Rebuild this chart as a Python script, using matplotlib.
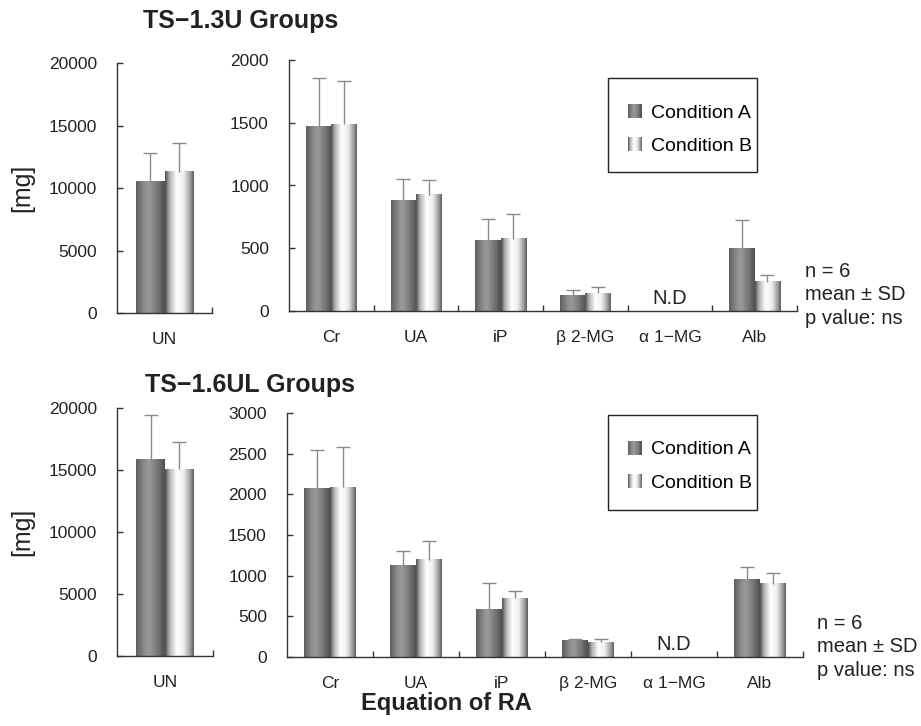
"""Urinary excretion bar panels for two dialyzer groups, Condition A vs B."""

import matplotlib

matplotlib.use("Agg")
import matplotlib.pyplot as plt
import numpy as np
from matplotlib.colors import LinearSegmentedColormap
from matplotlib.image import BboxImage
from matplotlib.legend_handler import HandlerBase
from matplotlib.patches import Patch, Rectangle
from matplotlib.transforms import Bbox, TransformedBbox

plt.rcParams["font.family"] = ["Liberation Sans", "DejaVu Sans"]

# ---- data -------------------------------------------------------------
UN_LABELS = ["UN"]
CATEGORIES = ["Cr", "UA", "iP", "β 2-MG", "α 1−MG", "Alb"]
ND_CATEGORY = "α 1−MG"

TOP_TITLE = "TS−1.3U Groups"
TOP_UN_A = [10500]
TOP_UN_A_SD = [2300]
TOP_UN_B = [11300]
TOP_UN_B_SD = [2300]
TOP_A = [1470, 880, 558, 127, np.nan, 500]
TOP_A_SD = [385, 170, 178, 43, np.nan, 225]
TOP_B = [1490, 925, 574, 143, np.nan, 233]
TOP_B_SD = [340, 115, 196, 48, np.nan, 52]
TOP_YTICKS = [0, 500, 1000, 1500, 2000]

BOT_TITLE = "TS−1.6UL Groups"
BOT_UN_A = [15860]
BOT_UN_A_SD = [3600]
BOT_UN_B = [15050]
BOT_UN_B_SD = [2230]
BOT_A = [2066, 1131, 578, 197, np.nan, 959]
BOT_A_SD = [480, 168, 332, 21, np.nan, 150]
BOT_B = [2090, 1193, 725, 184, np.nan, 898]
BOT_B_SD = [495, 229, 83, 34, np.nan, 131]
BOT_YTICKS = [0, 500, 1000, 1500, 2000, 2500, 3000]

UN_YTICKS = [0, 5000, 10000, 15000, 20000]
SERIES_LABELS = ["Condition A", "Condition B"]
STATS_TEXT = "n = 6\nmean ± SD\np value: ns"

# ---- style ------------------------------------------------------------
W, H = 921, 726
BAR_WIDTH = 0.3
ERR_COLOR = "#8a8a8a"
SPINE_COLOR = "#333333"
TEXT_COLOR = "#222222"
CMAP_A = LinearSegmentedColormap.from_list(
    "cond_a",
    [(0.0, "#5e5e5e"), (0.3, "#8e8e8e"), (0.45, "#9a9a9a"), (0.75, "#767676"), (1.0, "#4e4e4e")],
)
CMAP_B = LinearSegmentedColormap.from_list(
    "cond_b",
    [(0.0, "#4a4a4a"), (0.15, "#b0b0b0"), (0.4, "#ffffff"), (0.65, "#eeeeee"), (0.88, "#9a9a9a"), (1.0, "#5a5a5a")],
)
GRADIENT = np.linspace(0.0, 1.0, 256).reshape(1, -1)


class GradientHandler(HandlerBase):
    """Legend handle drawn as a small horizontal gradient square."""

    def __init__(self, cmap):
        super().__init__()
        self.cmap = cmap

    def create_artists(self, legend, orig_handle, xdescent, ydescent, width, height, fontsize, trans):
        bbox = TransformedBbox(Bbox.from_bounds(-xdescent, -ydescent, width, height), trans)
        image = BboxImage(bbox, cmap=self.cmap, interpolation="bicubic")
        image.set_data(GRADIENT)
        return [image]


def px_axes(fig, left, right, top, bottom):
    return fig.add_axes((left / W, 1 - bottom / H, (right - left) / W, (bottom - top) / H))


def style_axis(ax, n_cats, labels, ylim, yticks):
    for side in ("top", "right"):
        ax.spines[side].set_visible(False)
    for side in ("left", "bottom"):
        ax.spines[side].set_color(SPINE_COLOR)
        ax.spines[side].set_linewidth(1.0)
    ax.set_xlim(-0.5, n_cats - 0.5)
    ax.set_ylim(*ylim)
    ax.set_yticks(yticks)
    ax.set_xticks(np.arange(n_cats))
    ax.set_xticklabels(labels)
    ax.set_xticks(np.arange(0.5, n_cats, 1.0), minor=True)
    ax.tick_params(axis="x", which="major", length=0, pad=14, labelsize=12.5, colors=TEXT_COLOR)
    ax.tick_params(axis="x", which="minor", direction="in", length=4.3, width=1.0, color=SPINE_COLOR)
    ax.tick_params(axis="y", direction="in", length=4.3, width=1.0, pad=14.5, labelsize=12.5,
                   color=SPINE_COLOR, labelcolor=TEXT_COLOR)


def draw_group(ax, values_a, sd_a, values_b, sd_b):
    positions = np.arange(len(values_a))
    for offset, values, sds, cmap in (
        (-BAR_WIDTH / 2, values_a, sd_a, CMAP_A),
        (BAR_WIDTH / 2, values_b, sd_b, CMAP_B),
    ):
        values = np.asarray(values, dtype=float)
        sds = np.asarray(sds, dtype=float)
        xs = positions + offset
        for x, v in zip(xs, values):
            if np.isnan(v):
                continue
            ax.imshow(GRADIENT, cmap=cmap, aspect="auto", interpolation="bicubic",
                      extent=(x - BAR_WIDTH / 2, x + BAR_WIDTH / 2, 0, v), zorder=2)
        ok = ~np.isnan(values)
        ax.vlines(xs[ok], values[ok], values[ok] + sds[ok], color=ERR_COLOR, linewidth=1.0, zorder=3)
        ax.plot(xs[ok], values[ok] + sds[ok], linestyle="none", marker="_", markersize=10,
                markeredgewidth=1.0, color=ERR_COLOR, zorder=3)


def add_legend(ax, frame_box, anchor):
    x0, y0, x1, y1 = frame_box
    ax.add_patch(Rectangle((x0, y0), x1 - x0, y1 - y0, transform=ax.transAxes, facecolor="white",
                           edgecolor=TEXT_COLOR, linewidth=1.0, zorder=4, clip_on=False))
    handles = [Patch(label=SERIES_LABELS[0]), Patch(label=SERIES_LABELS[1])]
    leg = ax.legend(
        handles=handles,
        handler_map={handles[0]: GradientHandler(CMAP_A), handles[1]: GradientHandler(CMAP_B)},
        loc="center left",
        bbox_to_anchor=anchor,
        borderaxespad=0.0,
        borderpad=0.0,
        fontsize=14,
        handlelength=0.72,
        handleheight=0.72,
        handletextpad=0.45,
        labelspacing=0.82,
        frameon=False,
    )
    leg.set_zorder(5)


def plot_block(fig, un_box, main_box, un_data, main_data, yticks, frame_box, anchor,
               title, title_xy, stats_xy):
    ax_un = px_axes(fig, *un_box)
    draw_group(ax_un, *un_data)
    style_axis(ax_un, 1, UN_LABELS, (0, UN_YTICKS[-1]), UN_YTICKS)

    ax = px_axes(fig, *main_box)
    draw_group(ax, *main_data)
    style_axis(ax, len(CATEGORIES), CATEGORIES, (0, yticks[-1]), yticks)
    ax.annotate("N.D", xy=(CATEGORIES.index(ND_CATEGORY), 0), xytext=(0, 2),
                textcoords="offset points", ha="center", va="bottom", fontsize=14.5, color=TEXT_COLOR)
    add_legend(ax, frame_box, anchor)

    fig.text(title_xy[0] / W, 1 - title_xy[1] / H, title, fontsize=18, fontweight="bold",
             va="baseline", ha="left", color=TEXT_COLOR)
    fig.text(stats_xy[0] / W, 1 - stats_xy[1] / H, STATS_TEXT, fontsize=14.5, va="top",
             ha="left", linespacing=1.3, color=TEXT_COLOR)
    fig.text(22 / W, 1 - (un_box[2] + un_box[3]) / 2 / H, "[mg]", rotation=90, fontsize=18,
             va="center", ha="center", color=TEXT_COLOR)


def main():
    fig = plt.figure(figsize=(W / 100, H / 100), dpi=100)
    plot_block(
        fig,
        (117, 212, 63, 313),
        (289, 797, 60, 311),
        (TOP_UN_A, TOP_UN_A_SD, TOP_UN_B, TOP_UN_B_SD),
        (TOP_A, TOP_A_SD, TOP_B, TOP_B_SD),
        TOP_YTICKS,
        (0.628, 0.554, 0.921, 0.928),
        (0.667, 0.723),
        TOP_TITLE,
        (143, 28),
        (805, 262),
    )
    plot_block(
        fig,
        (117, 213, 408, 656),
        (287, 803, 413, 657),
        (BOT_UN_A, BOT_UN_A_SD, BOT_UN_B, BOT_UN_B_SD),
        (BOT_A, BOT_A_SD, BOT_B, BOT_B_SD),
        BOT_YTICKS,
        (0.622, 0.602, 0.911, 0.992),
        (0.661, 0.781),
        BOT_TITLE,
        (145, 392),
        (817, 614),
    )
    fig.text(446 / W, 1 - 710 / H, "Equation of RA", fontsize=17, fontweight="bold",
             ha="center", va="baseline", color=TEXT_COLOR)
    fig.savefig("out.png", dpi=100)
    plt.close(fig)


if __name__ == "__main__":
    main()
